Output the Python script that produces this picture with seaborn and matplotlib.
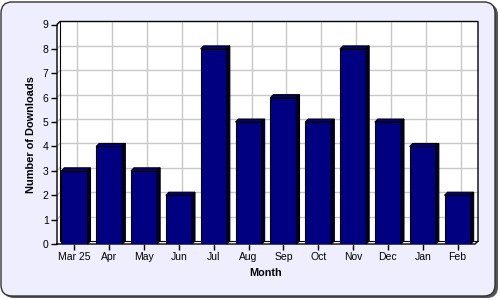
import matplotlib
matplotlib.use("Agg")
import matplotlib.pyplot as plt
import seaborn as sns
import pandas as pd
from matplotlib.patches import Polygon, FancyBboxPatch
from matplotlib.transforms import IdentityTransform

months = ["Mar 25", "Apr", "May", "Jun", "Jul", "Aug", "Sep", "Oct", "Nov", "Dec", "Jan", "Feb"]
downloads = [3, 4, 3, 2, 8, 5, 6, 5, 8, 5, 4, 2]
y_ticks = list(range(0, 10))

sns.set_theme(style="white")
plt.rcParams["font.family"] = ["Liberation Sans", "DejaVu Sans"]

W, H = 500, 300
fig = plt.figure(figsize=(W / 100, H / 100), dpi=100, facecolor="white")

# outer rounded panel with shadow
shadow = FancyBboxPatch((3, 2), 495, 294, boxstyle="round,pad=0,rounding_size=11",
                        transform=IdentityTransform(), facecolor="#555555", edgecolor="none", zorder=-10)
panel = FancyBboxPatch((1, 4), 494, 294, boxstyle="round,pad=0,rounding_size=11",
                       transform=IdentityTransform(), facecolor="#EEEEFF", edgecolor="#333333",
                       linewidth=1, zorder=-9)
fig.patches.extend([shadow, panel])

ax = fig.add_axes([57 / W, 56 / H, 418 / W, 219.5 / H])
ax.set_facecolor("none")
df = pd.DataFrame({"Month": months, "Downloads": downloads})
sns.barplot(data=df, x="Month", y="Downloads", color="#000080", saturation=1, width=0.75,
            edgecolor="black", linewidth=0.8, ax=ax, zorder=3)
ax.set_xlim(-0.5, len(months) - 0.5)
ax.set_ylim(0, 9)
for s in ax.spines.values():
    s.set_visible(False)

n = len(months)
sx = 418 / n
sy = 219.5 / 9
dx, dy = 3 / sx, 3 / sy
xl, xr = -0.5, n - 0.5

bars = list(ax.patches)

# wall + floor
wall = Polygon([(xl, 0), (xr, 0), (xr + dx, dy), (xr + dx, 9 + dy), (xl + dx, 9 + dy), (xl, 9)],
               closed=True, facecolor="white", edgecolor="none", clip_on=False, zorder=0)
ax.add_patch(wall)
grid_c = "#c8c8c8"
for k in y_ticks[1:-1]:
    ax.plot([xl + dx, xr + dx], [k + dy, k + dy], color=grid_c, lw=1, zorder=1, clip_on=False)
    ax.plot([xl, xl + dx], [k, k + dy], color=grid_c, lw=1, zorder=1, clip_on=False)
for i in range(n):
    ax.plot([i + dx, i + dx], [dy, 9 + dy], color=grid_c, lw=1, zorder=1, clip_on=False)
outline = [(xl, 0), (xl, 9), (xl + dx, 9 + dy), (xr + dx, 9 + dy), (xr + dx, dy), (xr, 0), (xl, 0)]
ax.plot([p[0] for p in outline], [p[1] for p in outline], color="black", lw=1, zorder=2, clip_on=False)
ax.plot([xl + dx, xl + dx, xr + dx], [9 + dy, dy, dy], color="black", lw=0.8, zorder=2, clip_on=False)

# 3D faces of bars
for p in bars:
    x0, w, h = p.get_x(), p.get_width(), p.get_height()
    top = Polygon([(x0, h), (x0 + w, h), (x0 + w + dx, h + dy), (x0 + dx, h + dy)], closed=True,
                  facecolor="#000080", edgecolor="black", lw=0.8, zorder=3, clip_on=False)
    side = Polygon([(x0 + w, 0), (x0 + w + dx, dy), (x0 + w + dx, h + dy), (x0 + w, h)], closed=True,
                   facecolor="#000030", edgecolor="black", lw=0.8, zorder=3, clip_on=False)
    ax.add_patch(top)
    ax.add_patch(side)

ax.set_yticks(y_ticks)
ax.tick_params(axis="both", which="both", left=True, bottom=True, length=4, width=1,
               color="black", labelsize=7.5, pad=2, labelcolor="black", direction="out")
ax.set_xlabel("Month", fontsize=7.8, fontweight="bold", labelpad=4, color="black")
ax.set_ylabel("Number of Downloads", fontsize=7.9, fontweight="bold", labelpad=5, color="black")

fig.savefig("out.png", dpi=100)
